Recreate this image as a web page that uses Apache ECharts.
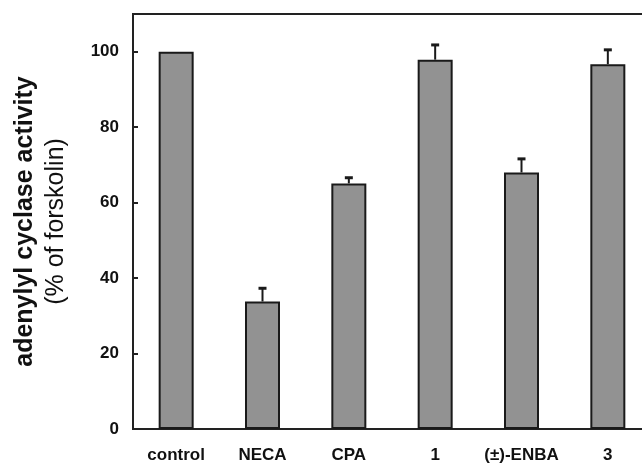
<!DOCTYPE html>
<html>
<head>
<meta charset="utf-8">
<script src="https://cdn.jsdelivr.net/npm/echarts@6/dist/echarts.min.js"></script>
<style>
  html, body { margin: 0; padding: 0; background: #fff; }
  #chart { width: 642px; height: 465px; }
</style>
</head>
<body>
<div id="chart"></div>
<script>
const categories = ['control', 'NECA', 'CPA', '1', '(\u00b1)-ENBA', '3'];
const means = [100, 33.8, 65.1, 97.9, 68.0, 96.7];
const errors = [0, 3.5, 1.5, 3.9, 3.6, 3.8];
const yTicks = [0, 20, 40, 60, 80, 100];
const yMax = 110;

const FONT = '"Liberation Sans", Arial, Helvetica, sans-serif';

const chart = echarts.init(document.getElementById('chart'), null, { renderer: 'canvas' });

const errData = categories.map((c, i) => [i, means[i], means[i] + errors[i]]);

chart.setOption({
  animation: false,
  backgroundColor: '#ffffff',
  grid: {
    left: 133, width: 518, top: 14, bottom: 36,
    outerBoundsMode: 'none',
    containLabel: false,
    show: true, borderColor: '#222', borderWidth: 2, backgroundColor: 'transparent'
  },
  xAxis: {
    type: 'category',
    data: categories,
    axisLine: { show: true, lineStyle: { color: '#222', width: 2 } },
    axisTick: { show: false },
    axisLabel: {
      color: '#111', fontFamily: FONT, fontWeight: 'bold', fontSize: 17, margin: 18,
      interval: 0
    },
    splitLine: { show: false }
  },
  yAxis: {
    type: 'value',
    min: yTicks[0],
    max: yMax,
    interval: yTicks[1] - yTicks[0],
    axisLine: { show: true, lineStyle: { color: '#222', width: 2 } },
    axisTick: { show: true, inside: true, length: 5, lineStyle: { color: '#222', width: 2 } },
    axisLabel: {
      color: '#111', fontFamily: FONT, fontWeight: 'bold', fontSize: 17, margin: 14,
      showMaxLabel: false,
      formatter: v => (yTicks.indexOf(v) >= 0 ? String(v) : '')
    },
    splitLine: { show: false },
    name: '{b|adenylyl cyclase activity}\n{n|(% of forskolin)}',
    nameLocation: 'middle',
    nameGap: 61,
    nameTextStyle: {
      lineHeight: 31,
      rich: {
        b: { fontFamily: FONT, fontWeight: 'bold', fontSize: 25, color: '#111', lineHeight: 31 },
        n: { fontFamily: FONT, fontWeight: 'normal', fontSize: 25, color: '#111', lineHeight: 31 }
      }
    }
  },
  series: [
    {
      type: 'bar',
      data: means,
      barWidth: 35,
      itemStyle: { color: '#929292', borderColor: '#1a1a1a', borderWidth: 2 },
      z: 2
    },
    {
      type: 'custom',
      data: errData,
      z: 3,
      renderItem: function (params, api) {
        const i = api.value(0);
        if (api.value(2) <= api.value(1)) return null;
        const base = api.coord([i, api.value(1)]);
        const top = api.coord([i, api.value(2)]);
        const half = 4;
        return {
          type: 'group',
          children: [
            { type: 'line', shape: { x1: base[0], y1: base[1], x2: top[0], y2: top[1] }, style: { stroke: '#1a1a1a', lineWidth: 2 } },
            { type: 'line', shape: { x1: top[0] - half, y1: top[1], x2: top[0] + half, y2: top[1] }, style: { stroke: '#1a1a1a', lineWidth: 3 } }
          ]
        };
      }
    }
  ]
});
</script>
</body>
</html>
